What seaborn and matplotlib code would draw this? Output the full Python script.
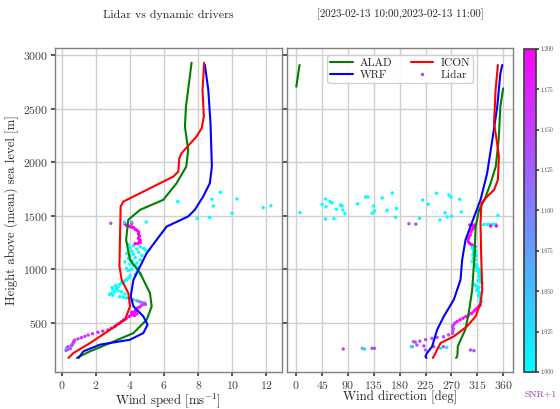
import numpy as np
import seaborn as sns
import matplotlib.pyplot as plt
from matplotlib.lines import Line2D
from matplotlib.cm import ScalarMappable
from matplotlib.colors import Normalize

# =============================
# Model profiles: wind speed
# =============================
alad_ws_h = [174, 183, 236, 313, 406, 531, 655, 779, 966, 1090, 1276, 1463, 1556, 1649,
             1804, 1960, 2115, 2332, 2519, 2929]
alad_ws = [0.88, 0.98, 1.66, 2.83, 4.2, 4.98, 5.27, 5.17, 4.59, 4.0, 3.77, 3.9, 4.59, 5.95,
           6.73, 7.3, 7.41, 7.22, 7.28, 7.61]

icon_ws_h = [174, 220, 313, 437, 531, 655, 779, 903, 1028, 1276, 1587, 1633, 1680, 1773,
             1866, 1913, 2037, 2084, 2239, 2317, 2425, 2674, 2929]
icon_ws = [0.39, 0.68, 1.66, 2.83, 3.71, 4.0, 3.9, 3.51, 3.38, 3.41, 3.45, 3.61, 4.2, 5.37,
           6.54, 6.83, 6.89, 7.02, 7.9, 8.2, 8.33, 8.25, 8.35]

wrf_ws_h = [174, 236, 298, 344, 406, 484, 562, 655, 748, 903, 1028, 1152, 1276, 1400,
            1494, 1556, 1680, 1804, 1960, 2363, 2674, 2907]
wrf_ws = [0.98, 1.27, 2.24, 4.0, 4.78, 5.03, 4.78, 4.2, 4.04, 4.2, 4.59, 4.98, 5.56, 6.15,
          7.41, 7.8, 8.29, 8.68, 8.8, 8.72, 8.59, 8.39]

# =============================
# Model profiles: wind direction
# =============================
alad_wd_h = [174, 189, 220, 282, 344, 437, 593, 810, 1121, 1400, 1556, 1649, 1804, 1960,
             2208, 2519, 2689, 2705, 2800, 2907]
alad_wd = [278, 280, 280.5, 281, 286, 294, 300, 306, 310, 312, 318, 327.5, 338, 347,
           352, 355, 359.8, 0.2, 2.8, 5.8]

icon_wd_h = [174, 205, 251, 313, 375, 469, 562, 686, 810, 1121, 1431, 1618, 1680, 1742,
             1835, 2053, 2208, 2363, 2674, 2907]
icon_wd = [237.5, 241, 245, 251, 274, 297, 312, 320.5, 323.5, 321.7, 320.5, 322, 332, 344,
           350.7, 352.5, 348.5, 344, 346.7, 350.7]

wrf_wd_h = [174, 189, 220, 282, 437, 562, 717, 903, 1090, 1276, 1400, 1649, 1897, 2208,
            2519, 2829, 2907]
wrf_wd = [226.5, 224.7, 227.6, 236.4, 245, 256.7, 274, 285.7, 288.6, 294.4, 303, 320.5,
          332, 341, 349.6, 355, 358.3]

# =============================
# Lidar: wind speed (height, speed, SNR+1)
# =============================
lid_ws_h = [245, 252, 260, 266, 279, 289, 300, 310, 322, 332, 341, 352, 363, 375, 388, 400,
            413, 424, 435, 450, 466,
            481, 496, 512, 528, 544, 560, 575, 590, 605, 618, 628, 640, 600, 570, 585,
            649, 660, 672, 686,
            745, 740, 733, 726, 718, 708, 700, 690, 680, 674,
            765, 775, 760, 790, 810, 820, 835, 850, 860, 880, 895, 870, 800, 790, 770, 830, 905, 920,
            940, 950, 960, 975, 990, 1000, 1010, 1020, 1035, 1050, 1060, 1070, 1080, 1090, 1100,
            1110, 1125, 1130, 1140, 1150, 1160, 1170, 1180, 1190, 1200, 1210, 1220, 1195, 1230, 1040,
            1410, 1405, 1400, 1395, 1390, 1375, 1365, 1350, 1330, 1310, 1290, 1275, 1260, 1250,
            1240, 1240, 1425, 1430,
            1430, 1440, 1442, 1442,
            1632, 1475, 1485, 1592, 1654, 1719, 1657, 1524, 1576, 1594]
lid_ws = [0.25, 0.35, 0.5, 0.27, 0.37, 0.57, 0.62, 0.66, 0.7, 0.72, 0.76, 0.95, 1.15, 1.35, 1.54, 1.8,
          2.12, 2.4, 2.71, 2.9, 3.1,
          3.2, 3.35, 3.49, 3.62, 3.78, 3.95, 4.08, 4.2, 4.27, 4.33, 4.37, 4.45, 4.1, 4.25, 4.4,
          4.56, 4.65, 4.75, 4.85,
          3.4, 3.6, 3.8, 4.0, 4.2, 4.4, 4.55, 4.7, 4.85, 4.9,
          2.8, 2.9, 3.0, 3.1, 3.0, 3.2, 3.3, 3.15, 3.4, 3.5, 3.7, 3.6, 3.3, 3.5, 3.7, 2.95, 3.8, 3.9,
          4.0, 4.3, 4.6, 4.4, 3.9, 4.1, 3.8, 4.5, 4.2, 4.0, 4.4, 3.7, 4.1, 4.6, 3.9,
          4.3, 4.0, 4.7, 4.2, 3.8, 4.5, 4.1, 4.9, 4.4, 4.0, 4.6, 4.2, 4.8, 3.9, 4.3,
          3.8, 3.9, 4.0, 4.1, 4.2, 4.3, 4.4, 4.5, 4.5, 4.55, 4.5, 4.6, 4.55, 4.6,
          4.45, 4.3, 3.7, 4.1,
          2.87, 3.68, 4.1, 4.95,
          6.8, 7.94, 8.67, 8.89, 8.81, 9.3, 10.27, 9.98, 11.81, 12.26]
lid_ws_snr = [1.14, 1.14, 1.13, 1.06, 1.14, 1.14, 1.14, 1.15, 1.15, 1.15, 1.15, 1.15, 1.16, 1.16,
              1.16, 1.16, 1.17, 1.17, 1.17, 1.18, 1.19,
              1.2, 1.2, 1.2, 1.2, 1.2, 1.2, 1.2, 1.2, 1.2, 1.2, 1.2, 1.19, 1.2, 1.2, 1.2,
              1.17, 1.16, 1.15, 1.14,
              1.0, 1.01, 1.02, 1.03, 1.05, 1.07, 1.09, 1.11, 1.13, 1.14,
              1.0, 1.0, 1.0, 1.0, 1.0, 1.0, 1.0, 1.0, 1.0, 1.0, 1.0, 1.0, 1.0, 1.0, 1.0, 1.0, 1.0, 1.0,
              1.0, 1.0, 1.0, 1.0, 1.0, 1.0, 1.0, 1.0, 1.0, 1.0, 1.0, 1.0, 1.0, 1.0, 1.0,
              1.0, 1.0, 1.0, 1.0, 1.0, 1.0, 1.0, 1.0, 1.0, 1.0, 1.0, 1.0, 1.0, 1.0, 1.0,
              1.2, 1.2, 1.2, 1.2, 1.2, 1.2, 1.2, 1.2, 1.2, 1.2, 1.2, 1.2, 1.2, 1.2,
              1.2, 1.2, 1.2, 1.2,
              1.14, 1.02, 1.06, 1.0,
              1.0, 1.0, 1.0, 1.0, 1.0, 1.0, 1.0, 1.0, 1.0, 1.0]

# =============================
# Lidar: wind direction (height, direction, SNR+1)
# =============================
lid_wd_h = [1529, 1606, 1657, 1585, 1635, 1622, 1470, 1473, 1561, 1601, 1592, 1554, 1520,
            1610, 1676, 1676, 1592, 1545, 1524, 1666, 1551, 1713, 1570, 1486, 1477, 1648,
            1608, 1710, 1461, 1529, 1489, 1694, 1675, 1496, 1654, 1536,
            1426, 1422,
            1418, 1420, 1419, 1420, 1421, 1505, 1414, 1416, 1405, 1405,
            1414, 1410, 1400, 1386, 1370, 1350, 1321, 1300, 1280, 1256, 1240, 1228, 1218, 1212,
            1205, 1195, 1180, 1170, 1160, 1150, 1140, 1130, 1120, 1105, 1090, 1075, 1065, 1050,
            1040, 1025, 1010, 1000, 990, 975, 965, 950, 935, 920, 905, 895, 880, 870, 860, 845,
            835, 820, 805, 790, 775, 760, 745, 730, 715, 700, 690,
            668, 655, 640, 625, 610, 590, 575, 560, 545, 530, 515, 500, 480, 465, 445, 425, 404,
            390, 372, 365, 357, 345, 330, 322, 326,
            279, 295, 286, 248, 279, 279, 279, 264, 272, 257, 264, 257, 264, 264, 248, 242]
lid_wd = [6.4, 45.2, 51, 52, 58.6, 62.6, 51, 65.5, 70, 77, 80, 81, 84.6,
          106.7, 120.5, 124.7, 134.6, 136, 132, 149.5, 158, 167, 174.5, 172.7, 214.4, 219.7,
          229.6, 244, 249.9, 259, 262.6, 265.5, 269, 270.3, 284.3, 287,
          196, 208,
          326, 332, 337, 342, 347, 350.8, 306, 311, 338, 348,
          302, 306, 310, 308, 306, 304, 302.6, 300, 299, 299.5, 302, 305.5, 309, 311,
          306, 310, 308, 312, 309, 311, 307, 313, 310, 308, 312, 306, 309, 311,
          314, 312, 316, 318, 314, 320, 317, 321, 318, 322, 319, 316, 320, 323, 310, 313,
          318, 316, 314, 318, 320, 317, 319, 321, 320, 322, 320,
          320, 318, 315, 312, 309, 305, 300, 295, 290, 285, 280, 276, 273, 272, 273, 272, 272,
          265, 256, 245, 236, 225, 215, 207, 204,
          201.7, 210, 222, 225, 239, 256, 200, 251, 262, 81.7, 114.8, 118.8, 132, 136, 303, 309]
lid_wd_snr = [1.0] * 36 + [1.14, 1.14] + \
             [1.0, 1.0, 1.0, 1.0, 1.0, 1.0, 1.2, 1.2, 1.2, 1.2] + \
             [1.2] * 14 + [1.0] * 41 + \
             [1.18, 1.19, 1.2, 1.2, 1.2, 1.2, 1.2, 1.2, 1.2, 1.19, 1.18, 1.17, 1.16, 1.15, 1.15,
              1.14, 1.14, 1.14, 1.14, 1.14, 1.14, 1.14, 1.14, 1.14, 1.13] + \
             [1.13, 1.14, 1.14, 1.13, 1.14, 1.13, 1.02, 1.02, 1.03, 1.15, 1.05, 1.04, 1.14, 1.14,
              1.14, 1.14]

# =============================
# Style
# =============================
sns.set_theme(style="whitegrid")
plt.rcParams["font.family"] = ["cmr10", "DejaVu Serif"]
plt.rcParams["mathtext.fontset"] = "cm"
plt.rcParams["axes.formatter.use_mathtext"] = True
plt.rcParams["axes.edgecolor"] = "#808080"
plt.rcParams["grid.color"] = "#d0d0d0"
plt.rcParams["xtick.bottom"] = True
plt.rcParams["ytick.left"] = True
plt.rcParams["xtick.major.size"] = 3
plt.rcParams["ytick.major.size"] = 3
plt.rcParams["xtick.color"] = "#404040"
plt.rcParams["ytick.color"] = "#404040"

fig = plt.figure(figsize=(5.6, 4.09), dpi=100)
ax1 = fig.add_axes([0.0982, 0.0905, 0.405, 0.792])
ax2 = fig.add_axes([0.5125, 0.0905, 0.4036, 0.792], sharey=ax1)
cax = fig.add_axes([0.936, 0.0905, 0.0214, 0.79])

cmap = "cool"
snr_norm = (1.0, 1.2)
lw = 1.5


def wrap_segments(h, d):
    """Split a direction profile where it wraps around 0/360."""
    h = np.asarray(h, float)
    d = np.asarray(d, float)
    cuts = np.where(np.abs(np.diff(d)) > 180)[0] + 1
    return list(zip(np.split(h, cuts), np.split(d, cuts)))


# ---- left: wind speed
sns.lineplot(x=alad_ws, y=alad_ws_h, sort=False, estimator=None, color="green", lw=lw, ax=ax1)
sns.lineplot(x=wrf_ws, y=wrf_ws_h, sort=False, estimator=None, color="blue", lw=lw, ax=ax1)
sns.lineplot(x=icon_ws, y=icon_ws_h, sort=False, estimator=None, color="red", lw=lw, ax=ax1)
sns.scatterplot(x=lid_ws, y=lid_ws_h, hue=lid_ws_snr, palette=cmap, hue_norm=snr_norm,
                s=6, linewidth=0, legend=False, ax=ax1)

# ---- right: wind direction
for hh, dd in wrap_segments(alad_wd_h, alad_wd):
    sns.lineplot(x=dd, y=hh, sort=False, estimator=None, color="green", lw=lw, ax=ax2)
for hh, dd in wrap_segments(wrf_wd_h, wrf_wd):
    sns.lineplot(x=dd, y=hh, sort=False, estimator=None, color="blue", lw=lw, ax=ax2)
for hh, dd in wrap_segments(icon_wd_h, icon_wd):
    sns.lineplot(x=dd, y=hh, sort=False, estimator=None, color="red", lw=lw, ax=ax2)
sns.scatterplot(x=lid_wd, y=lid_wd_h, hue=lid_wd_snr, palette=cmap, hue_norm=snr_norm,
                s=6, linewidth=0, legend=False, ax=ax2)

# ---- axes
ax1.set_xlim(-0.4, 12.9)
ax1.set_ylim(43, 3065)
ax1.set_xticks(np.arange(0, 13, 2))
ax1.set_yticks(np.arange(500, 3001, 500))
ax2.set_xlim(-16, 377)
ax2.set_xticks(np.arange(0, 361, 45))
ax2.tick_params(axis="y", labelleft=False)

for ax in (ax1, ax2):
    ax.tick_params(labelsize=8.5, pad=2)
    for s in ax.spines.values():
        s.set_linewidth(1.0)

ax1.set_xlabel("Wind speed [ms$^{-1}$]", fontsize=9.2, labelpad=0)
ax1.set_ylabel("Height above (mean) sea level [m]", fontsize=9.2, labelpad=3)
ax2.set_xlabel("Wind direction [deg]", fontsize=9.2, labelpad=0)
ax1.set_title("Lidar vs dynamic drivers", fontsize=8.6, pad=22)
ax2.set_title("[2023-02-13 10:00,2023-02-13 11:00]", fontsize=7.8, pad=22)

handles = [Line2D([], [], color="green", lw=lw, label="ALAD"),
           Line2D([], [], color="blue", lw=lw, label="WRF"),
           Line2D([], [], color="red", lw=lw, label="ICON"),
           Line2D([], [], color="#b050ff", marker=".", ms=3, ls="none", label="Lidar")]
ax2.legend(handles=handles, ncol=2, loc="upper center", bbox_to_anchor=(0.5, 0.995),
           fontsize=8.2, handlelength=2.0, columnspacing=1.6, borderpad=0.25,
           labelspacing=0.15, handletextpad=0.6, framealpha=0.9)

# ---- colorbar
sm = ScalarMappable(norm=Normalize(*snr_norm), cmap=cmap)
cb = fig.colorbar(sm, cax=cax, ticks=np.arange(1.0, 1.2001, 0.025), format="%.3f")
cb.ax.tick_params(labelsize=4, length=2, pad=1)
cb.outline.set_edgecolor("#404040")
fig.text(0.966, 0.03, "SNR+1", color="#a030b0", fontsize=7, ha="center")

fig.savefig("out.png", dpi=100)
